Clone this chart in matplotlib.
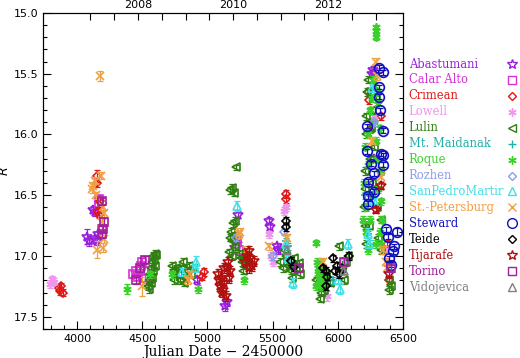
import numpy as np
import pandas as pd
import matplotlib
matplotlib.use("Agg")
import matplotlib.pyplot as plt
from matplotlib.ticker import MultipleLocator

# (JD - 2450000, R mag, error)
abastumani = [(4080, 16.84, 0.06), (4090, 16.88, 0.04), (4125, 16.62, 0.03), (4135, 16.64, 0.03),
              (4140, 16.86, 0.03), (4150, 16.88, 0.03), (4160, 16.82, 0.03), (4920, 17.20, 0.03),
              (5138, 17.41, 0.04), (5150, 17.38, 0.03), (5215, 16.93, 0.03), (5225, 16.90, 0.03),
              (5232, 16.66, 0.03), (5470, 16.71, 0.03), (5480, 16.76, 0.03), (5530, 16.92, 0.03),
              (5545, 16.95, 0.03), (6270, 15.47, 0.03), (6262, 15.50, 0.03), (6280, 16.20, 0.03)]
calar_alto = [(4165, 16.53, 0.03), (4172, 16.57, 0.03), (4195, 16.78, 0.03), (4430, 17.15, 0.03),
              (4450, 17.12, 0.03), (4470, 17.17, 0.03), (4490, 17.08, 0.03), (4500, 17.05, 0.03),
              (4510, 17.12, 0.03), (4520, 17.18, 0.03), (5225, 16.88, 0.03), (5240, 16.95, 0.03)]
crimean = [(3860, 17.26, 0.03), (3870, 17.29, 0.03), (3880, 17.25, 0.03), (3890, 17.30, 0.03),
           (4150, 16.34, 0.05), (4155, 16.40, 0.03), (4160, 16.63, 0.03), (4168, 16.66, 0.03),
           (4175, 16.55, 0.03), (4970, 17.13, 0.03), (4960, 17.17, 0.03), (5600, 16.49, 0.03),
           (5605, 16.53, 0.03), (6235, 15.65, 0.03), (6240, 15.72, 0.03), (6250, 15.96, 0.03),
           (6270, 15.90, 0.03), (6330, 15.85, 0.03), (6380, 16.90, 0.03), (6395, 17.20, 0.03)]
lowell = [(3790, 17.23, 0.03), (3810, 17.19, 0.03), (3825, 17.21, 0.03), (5215, 16.95, 0.03),
          (5470, 16.82, 0.03), (5490, 17.00, 0.03), (5500, 17.05, 0.03), (5585, 16.63, 0.03),
          (5600, 16.60, 0.03), (5920, 17.33, 0.04), (6275, 15.85, 0.03), (6360, 16.95, 0.03)]
lulin = [(4545, 17.25, 0.03), (4555, 17.20, 0.03), (4560, 17.15, 0.03), (4565, 17.22, 0.03),
         (4570, 17.10, 0.03), (4575, 17.05, 0.03), (4580, 17.12, 0.03), (4585, 17.00, 0.03),
         (4590, 17.03, 0.03), (4595, 16.98, 0.03), (4600, 17.08, 0.03), (4605, 16.99, 0.03),
         (4550, 17.27, 0.03), (4575, 17.18, 0.03),
         (4730, 17.08, 0.03), (4745, 17.12, 0.03), (4760, 17.10, 0.03), (4775, 17.15, 0.03),
         (4790, 17.20, 0.03), (4800, 17.10, 0.03), (4815, 17.05, 0.03), (4830, 17.18, 0.03),
         (4845, 17.12, 0.03), (4860, 17.08, 0.03), (4875, 17.15, 0.03), (4890, 17.10, 0.03),
         (4740, 17.20, 0.03), (4820, 17.22, 0.03),
         (5222, 16.27, 0.02), (5170, 16.46, 0.03), (5185, 16.44, 0.03), (5205, 16.48, 0.03),
         (5210, 16.71, 0.03), (5195, 16.73, 0.03), (5180, 16.80, 0.03), (5175, 16.85, 0.03),
         (5190, 16.88, 0.03), (5200, 16.83, 0.03), (5210, 16.92, 0.03), (5165, 16.97, 0.03),
         (5185, 17.00, 0.03), (5245, 16.98, 0.03), (5255, 17.02, 0.03), (5265, 17.05, 0.03),
         (5280, 17.00, 0.03), (5295, 17.08, 0.03), (5270, 17.12, 0.03),
         (5560, 17.05, 0.03), (5580, 17.10, 0.03), (5600, 17.00, 0.03), (5620, 17.08, 0.03),
         (5640, 17.12, 0.03), (5650, 17.18, 0.03), (5665, 17.02, 0.03), (5680, 17.10, 0.03),
         (5700, 17.06, 0.03), (5710, 17.15, 0.03), (5590, 16.95, 0.03),
         (5835, 17.20, 0.03), (5850, 17.25, 0.03), (5860, 17.35, 0.03), (5870, 17.30, 0.03),
         (5880, 17.18, 0.03), (5895, 17.28, 0.03), (5910, 17.15, 0.03), (5940, 17.22, 0.03),
         (6007, 16.92, 0.03), (6030, 17.10, 0.03), (6045, 17.20, 0.03), (6060, 17.05, 0.03),
         (6075, 17.00, 0.03),
         (6200, 16.60, 0.03), (6205, 16.45, 0.03), (6210, 16.30, 0.03), (6215, 16.00, 0.03),
         (6220, 15.85, 0.03), (6225, 15.65, 0.03), (6230, 15.55, 0.03), (6240, 16.75, 0.03),
         (6245, 16.50, 0.03), (6250, 16.20, 0.03), (6255, 15.95, 0.03), (6260, 15.80, 0.03),
         (6265, 16.40, 0.03), (6280, 16.10, 0.03), (6290, 15.70, 0.03), (6300, 16.60, 0.03),
         (6310, 16.85, 0.03), (6320, 16.30, 0.03), (6330, 16.70, 0.03), (6335, 16.95, 0.03),
         (6215, 16.90, 0.03), (6205, 16.75, 0.03),
         (6395, 17.28, 0.03), (6405, 17.25, 0.03), (6390, 17.20, 0.03)]
mt_maidanak = [(5600, 16.88, 0.03), (5615, 16.92, 0.03), (6230, 16.82, 0.03),
               (6245, 16.90, 0.03), (6210, 16.50, 0.03), (5960, 17.20, 0.03)]
roque = [(4380, 17.27, 0.04), (4560, 17.15, 0.03), (4930, 17.27, 0.03), (5277, 17.20, 0.03),
         (4730, 17.15, 0.03),
         (5830, 16.89, 0.02), (5840, 17.05, 0.03), (5845, 17.15, 0.03), (5850, 17.10, 0.03),
         (5855, 17.20, 0.03), (5860, 17.12, 0.03), (5865, 17.25, 0.03), (5870, 17.05, 0.03),
         (5875, 17.18, 0.03), (5880, 17.22, 0.03), (5890, 17.10, 0.03), (5900, 17.15, 0.03),
         (5830, 17.25, 0.03),
         (6292, 15.15, 0.02), (6295, 15.20, 0.02), (6290, 15.12, 0.02), (6270, 15.55, 0.03),
         (6280, 15.60, 0.03), (6300, 15.65, 0.03), (6260, 15.70, 0.03), (6250, 15.80, 0.03),
         (6310, 15.75, 0.03), (6275, 15.90, 0.03), (6320, 15.95, 0.03), (6235, 16.00, 0.03),
         (6290, 16.05, 0.03), (6210, 16.10, 0.03), (6300, 16.20, 0.03), (6230, 16.25, 0.03),
         (6330, 16.30, 0.03), (6200, 16.40, 0.03), (6270, 16.50, 0.03), (6220, 16.60, 0.03),
         (6310, 16.45, 0.03), (6330, 16.55, 0.03), (6340, 16.70, 0.03), (6250, 16.70, 0.03),
         (6195, 16.70, 0.03), (6215, 16.80, 0.03), (6230, 16.95, 0.03), (6320, 16.80, 0.03),
         (6290, 16.90, 0.03), (6335, 16.90, 0.03)]
rozhen = [(5585, 16.80, 0.03), (5500, 17.00, 0.03), (6040, 17.05, 0.03),
          (5220, 16.85, 0.03), (6280, 15.90, 0.03)]
san_pedro_martir = [(4806, 17.13, 0.03), (4915, 17.05, 0.05), (4905, 17.10, 0.03),
                    (5225, 16.59, 0.04), (5605, 16.90, 0.03), (5620, 17.02, 0.03),
                    (5655, 17.22, 0.04), (6020, 17.27, 0.04), (6000, 17.20, 0.03),
                    (6077, 16.90, 0.04), (6260, 15.62, 0.03), (6280, 16.55, 0.03),
                    (6230, 16.82, 0.05), (6240, 16.90, 0.03)]
st_petersburg = [(4175, 15.52, 0.04), (4115, 16.45, 0.03), (4125, 16.42, 0.03), (4135, 16.38, 0.03),
                 (4145, 16.50, 0.03), (4185, 16.34, 0.03), (4200, 16.60, 0.03), (4210, 16.65, 0.03),
                 (4150, 16.95, 0.07), (4200, 16.93, 0.04), (4210, 16.86, 0.03), (4190, 16.72, 0.03),
                 (4500, 17.25, 0.08), (4850, 17.20, 0.03), (4870, 17.15, 0.03), (5240, 16.82, 0.03),
                 (5250, 16.80, 0.03), (5300, 16.95, 0.03), (5470, 16.92, 0.03), (5610, 16.85, 0.03),
                 (5890, 17.05, 0.03), (6290, 15.40, 0.03), (6300, 15.52, 0.03), (6260, 16.05, 0.03),
                 (6330, 16.35, 0.03), (6350, 16.95, 0.03), (6370, 17.05, 0.03), (6380, 17.10, 0.03)]
steward = [(6315, 15.45, 0.02), (6345, 15.49, 0.02), (6315, 15.61, 0.02), (6318, 15.69, 0.02),
           (6320, 15.80, 0.02), (6223, 15.93, 0.02), (6345, 15.97, 0.02), (6222, 16.14, 0.02),
           (6330, 16.16, 0.02), (6345, 16.17, 0.02), (6253, 16.24, 0.02), (6345, 16.25, 0.02),
           (6276, 16.32, 0.02), (6230, 16.39, 0.02), (6276, 16.47, 0.02), (6230, 16.51, 0.02),
           (6230, 16.57, 0.02), (6369, 16.78, 0.02), (6384, 16.84, 0.02), (6453, 16.80, 0.03),
           (6430, 16.92, 0.02), (6422, 16.96, 0.02), (6392, 17.02, 0.02), (6407, 17.07, 0.02)]
teide = [(5600, 16.71, 0.03), (5605, 16.76, 0.03), (5640, 17.04, 0.03), (5661, 17.09, 0.03),
         (5907, 17.12, 0.03), (5915, 17.17, 0.03), (5907, 17.25, 0.03), (5961, 17.02, 0.03),
         (5975, 17.12, 0.03), (6007, 17.15, 0.03), (6030, 17.10, 0.03), (6084, 17.00, 0.03),
         (5885, 17.10, 0.03), (5990, 17.08, 0.03)]
tijarafe = [(5080, 17.15, 0.04), (5090, 17.20, 0.04), (5100, 17.25, 0.04), (5110, 17.30, 0.04),
            (5120, 17.28, 0.04), (5130, 17.22, 0.04), (5140, 17.33, 0.04), (5150, 17.10, 0.04),
            (5160, 17.05, 0.04), (5165, 17.18, 0.04), (5170, 17.12, 0.04), (5110, 17.18, 0.04),
            (5125, 17.10, 0.04),
            (5285, 17.05, 0.04), (5300, 17.00, 0.04), (5315, 16.96, 0.04), (5330, 17.02, 0.04),
            (5345, 17.08, 0.04), (5360, 17.04, 0.04), (5320, 17.10, 0.04),
            (6290, 16.62, 0.03), (6330, 16.42, 0.03), (6395, 17.15, 0.03)]
torino = [(4190, 16.55, 0.03), (4200, 16.78, 0.03), (4210, 16.72, 0.03), (4190, 16.82, 0.03),
          (4450, 17.20, 0.03), (4480, 17.10, 0.03), (4520, 17.03, 0.03), (5700, 17.10, 0.03),
          (6050, 17.05, 0.03), (6410, 17.10, 0.03)]
vidojevica = [(5610, 16.95, 0.03), (6050, 17.12, 0.03)]

names = ["Abastumani", "Calar Alto", "Crimean", "Lowell", "Lulin", "Mt. Maidanak", "Roque",
         "Rozhen", "SanPedroMartir", "St.-Petersburg", "Steward", "Teide", "Tijarafe",
         "Torino", "Vidojevica"]
series = [abastumani, calar_alto, crimean, lowell, lulin, mt_maidanak, roque, rozhen,
          san_pedro_martir, st_petersburg, steward, teide, tijarafe, torino, vidojevica]

asterisk = (6, 2, 0)
colors = ['#9a1ee0', '#d830d8', '#e01818', '#ee96ee', '#2f7f12', '#20b0a8', '#3ccf2c',
          '#8c9ee6', '#40e0e8', '#f0a040', '#1010c0', '#000000', '#b01010', '#a0209a', '#808080']
markers = ['*', 's', 'D', asterisk, '<', '+', asterisk, 'D', '^', 'x', 'o', 'D', '*', 's', '^']
msizes = [7, 6, 4.5, 6, 5.5, 6, 6, 4.5, 6, 6, 7, 4.5, 7, 6, 6]

fig = plt.figure(figsize=(5.2, 3.58), dpi=100)
ax = fig.add_axes([0.083, 0.081, 0.692, 0.883])

for data, c, m, ms in zip(series, colors, markers, msizes):
    d = np.array(data)
    ax.errorbar(d[:, 0], d[:, 1], yerr=d[:, 2], fmt='none', ecolor=c, elinewidth=0.9,
                capsize=2.2, capthick=0.9)
    ax.plot(d[:, 0], d[:, 1], linestyle='none', marker=m, ms=ms, mfc='none', mec=c, mew=1.2)

ax.set_xlim(3740, 6500)
ax.set_ylim(17.6, 15.0)
ax.xaxis.set_major_locator(MultipleLocator(500))
ax.xaxis.set_minor_locator(MultipleLocator(100))
ax.yaxis.set_major_locator(MultipleLocator(0.5))
ax.yaxis.set_minor_locator(MultipleLocator(0.1))
ax.tick_params(which='both', direction='in', bottom=True, left=True, right=True, top=False,
               labelsize=8, width=0.8)
ax.tick_params(which='major', length=6)
ax.tick_params(which='minor', length=3)
ax.yaxis.set_major_formatter(matplotlib.ticker.FormatStrFormatter('%.1f'))
ax.set_xlabel("Julian Date − 2450000", family='DejaVu Serif', fontsize=10, labelpad=1)
ax.set_ylabel("$R$", fontsize=9)
ax.yaxis.set_label_coords(-0.088, 0.5)

# top axis in calendar years
half_years = pd.date_range("2007-01-01", "2013-01-01", freq="6MS")
jd_top = np.array([t.to_julian_date() - 2450000 for t in half_years])
top_labels = [str(t.year) if (t.month == 1 and t.year % 2 == 0) else "" for t in half_years]
ax2 = ax.twiny()
ax2.set_xlim(ax.get_xlim())
ax2.set_xticks(jd_top)
ax2.set_xticklabels(top_labels)
ax2.tick_params(direction='in', length=5, width=0.8, labelsize=8, pad=2)

# legend drawn as coloured text with its marker at the right
for i, (name, c, m, ms) in enumerate(zip(names, colors, markers, msizes)):
    yf = 1 - (64 + 15.93 * i) / 358
    fig.text(0.786, yf, name, color=c, family='DejaVu Serif', fontsize=8.3, va='center')
    ax.plot([0.985], [yf], transform=fig.transFigure, clip_on=False, linestyle='none',
            marker=m, ms=ms, mfc='none', mec=c, mew=1.0)

fig.savefig("out.png", dpi=100)
